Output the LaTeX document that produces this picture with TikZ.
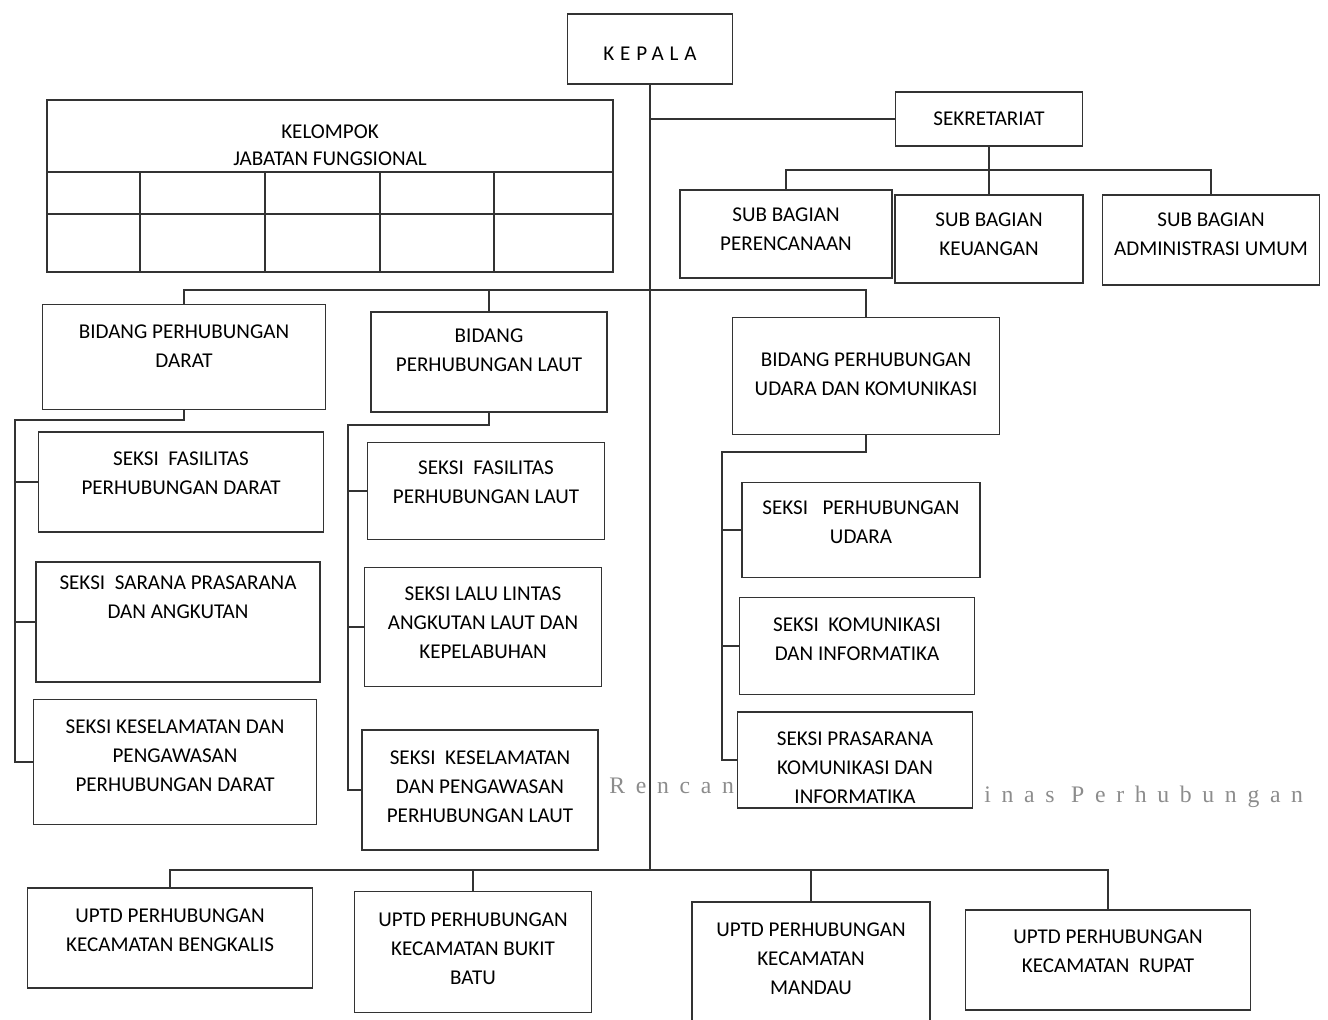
\documentclass[tikz,border=0pt]{standalone}
\usepackage{fontspec}
\setmainfont{Carlito}
\newfontfamily\wmfont[LetterSpace=45]{Liberation Serif}
\usetikzlibrary{positioning}

\begin{document}
\begin{tikzpicture}[x=0.02cm, y=-0.02cm,
        box/.style ={draw=black!80, line width=1.1pt, fill=white, align=center,
                     inner sep=2pt, text depth=10pt, font=\fontsize{12}{16.5}\selectfont},
        sz/.style 2 args={minimum width=#1*0.02cm, minimum height=#2*0.02cm},
        conn/.style={draw=black!80, line width=1.1pt},
        lbl/.style ={align=center, font=\fontsize{12}{15.5}\selectfont},
        wm/.style  ={text=black!45, font=\wmfont\fontsize{13.5}{15}\selectfont, inner sep=0pt},]

    \useasboundingbox (0,0) rectangle (1328,1019);

    % top
    \node[box, sz={165}{70}, text depth=0pt, text height=13pt] (kepala) at (650, 49)
        {\addfontfeature{LetterSpace=28}KEPALA};
    \node[box, sz={187}{54}, text depth=0pt] (sekr) at (989,119) {SEKRETARIAT};
    \node[box, sz={212}{88}, text depth=6pt] (sbper) at (786,234) {SUB BAGIAN\\PERENCANAAN};
    \node[box, sz={188}{88}, text depth=6pt] (sbkeu) at (989,239) {SUB BAGIAN\\KEUANGAN};
    \node[box, sz={217}{90}, text depth=7pt] (sbadm) at (1211,240) {SUB BAGIAN\\ADMINISTRASI UMUM};

    % kelompok jabatan fungsional
    \draw[conn] (47,100) rectangle (613,272);
    \draw[conn] (47,172) -- (613,172);
    \draw[conn] (47,214) -- (613,214);
    \foreach \x in {140,265,380,494}
        \draw[conn] (\x,172) -- (\x,272);
    \node[lbl] (kjf) at (330,145) {KELOMPOK\\JABATAN FUNGSIONAL};

    % bidang
    \node[box, sz={283}{105}, text depth=12pt] (bdarat) at (184,357) {BIDANG PERHUBUNGAN\\DARAT};
    \node[box, sz={236}{100}, text depth=13pt] (blaut) at (489,362) {BIDANG\\PERHUBUNGAN LAUT};
    \node[box, sz={267}{117}, text depth=2pt] (budara) at (866,376) {BIDANG PERHUBUNGAN\\UDARA DAN KOMUNIKASI};

    % seksi darat
    \node[box, sz={285}{100}] (sdf) at (181,482) {SEKSI\ \ FASILITAS\\PERHUBUNGAN DARAT};
    \node[box, sz={284}{120}, text depth=28pt] (sds) at (178,622) {SEKSI\ \ SARANA PRASARANA\\DAN ANGKUTAN};
    \node[box, sz={283}{125}, text depth=7pt] (sdk) at (175,762)
        {SEKSI KESELAMATAN DAN\\PENGAWASAN\\PERHUBUNGAN DARAT};

    % seksi laut
    \node[box, sz={237}{97}] (slf) at (486,491) {SEKSI\ \ FASILITAS\\PERHUBUNGAN LAUT};
    \node[box, sz={237}{119}, text depth=5pt] (sll) at (483,627)
        {SEKSI LALU LINTAS\\ANGKUTAN LAUT DAN\\KEPELABUHAN};
    \node[box, sz={236}{120}, text depth=4pt] (slk) at (480,790)
        {SEKSI\ \ KESELAMATAN\\DAN PENGAWASAN\\PERHUBUNGAN LAUT};

    % seksi udara
    \node[box, sz={238}{95}, text depth=9pt] (suu) at (861,530) {SEKSI\ \ \ PERHUBUNGAN\\UDARA};
    \node[box, sz={235}{97}, text depth=8pt] (suk) at (857,646) {SEKSI\ \ KOMUNIKASI\\DAN INFORMATIKA};
    \node[box, sz={235}{96}, text depth=0pt, text height=50pt] (sup) at (855,760)
        {SEKSI PRASARANA\\KOMUNIKASI DAN\\INFORMATIKA};

    % watermark
    \node[wm, anchor=west] (wma) at (609,786) {Rencan};
    \node[wm, anchor=west] (wmb) at (984,797) {inas Perhubungan};

    % uptd
    \node[box, sz={285}{100}, text depth=9pt] (ubkl) at (170,938) {UPTD PERHUBUNGAN\\KECAMATAN BENGKALIS};
    \node[box, sz={237}{121}, text depth=4pt] (ubbt) at (473,952)
        {UPTD PERHUBUNGAN\\KECAMATAN BUKIT\\BATU};
    \node[box, sz={238}{120}, text depth=4pt] (umnd) at (811,962)
        {UPTD PERHUBUNGAN\\KECAMATAN\\MANDAU};
    \node[box, sz={285}{100}] (urpt) at (1108,960)
        {UPTD PERHUBUNGAN\\KECAMATAN\ \ RUPAT};

    % bus points
    \coordinate (sbus) at (989,170);
    \coordinate (bbus) at (650,290);
    \coordinate (dbus) at (15,420);
    \coordinate (lbus) at (348,425);
    \coordinate (ubus) at (722,452);
    \coordinate (tbus) at (650,870);

    % connectors
    \draw[conn] (kepala.south) -- (tbus);
    \draw[conn] (kepala.south |- sekr.west) -- (sekr.west);
    \draw[conn] (sekr.south) -- (sbkeu.north);
    \draw[conn] (sbper.north) |- (sbus) -| (sbadm.north);

    \draw[conn] (bdarat.north) |- (bbus) -| (budara.north);
    \draw[conn] (blaut.north) -- (blaut.north |- bbus);

    \draw[conn] (bdarat.south) |- (dbus) |- (sdk.west);
    \draw[conn] (dbus |- sdf.west) -- (sdf.west);
    \draw[conn] (dbus |- sds.west) -- (sds.west);

    \draw[conn] (blaut.south) |- (lbus) |- (slk.west);
    \draw[conn] (lbus |- slf.west) -- (slf.west);
    \draw[conn] (lbus |- sll.west) -- (sll.west);

    \draw[conn] (budara.south) |- (ubus) |- (sup.west);
    \draw[conn] (ubus |- suu.west) -- (suu.west);
    \draw[conn] (ubus |- suk.west) -- (suk.west);

    \draw[conn] (ubkl.north) |- (tbus) -| (urpt.north);
    \draw[conn] (ubbt.north) -- (ubbt.north |- tbus);
    \draw[conn] (umnd.north) -- (umnd.north |- tbus);
\end{tikzpicture}
\end{document}
